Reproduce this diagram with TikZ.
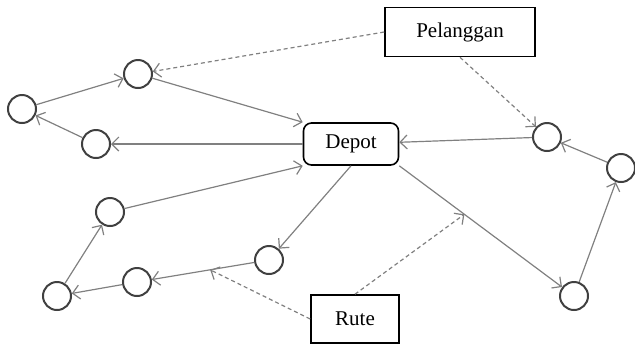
\documentclass[tikz,border=0pt]{standalone}
\usepackage{fontspec}
\setmainfont{Liberation Serif}
\usetikzlibrary{arrows.meta}
\usetikzlibrary{shapes,positioning}
\tikzset{>={Straight Barb[length=3.5pt,width=7pt]}}
\colorlet{background}{white}
\colorlet{penColor}{black!75}
\colorlet{penColor2}{black!50}
\tikzset{
	halte/.style={circle,draw=penColor,line width=1pt,minimum size=14pt,inner sep=0pt},
	kotak/.style={rectangle,draw=black,line width=0.8pt,font=\fontsize{10.5}{12}\selectfont},
	jalur/.style={->,draw=penColor2,line width=0.6pt},
	tunjuk/.style={->,draw=penColor2,line width=0.6pt,dash pattern=on 2pt off 1.5pt}
}

\begin{document}
\begin{tikzpicture}[x=0.5pt,y=-0.5pt]
				\useasboundingbox (0,0) rectangle (635,345);
				\node[kotak,rounded corners=4pt,minimum width=47.5pt,minimum height=21pt] (D) at (351,144) {Depot};
				\node[kotak,minimum width=75pt,minimum height=24.5pt] (P) at (460,32) {Pelanggan};
				\node[kotak,minimum width=44pt,minimum height=24pt] (R) at (355,319) {Rute};
				\node[halte] (A) at (138,74) {};
				\node[halte] (B) at (22,109) {};
				\node[halte] (C) at (96,144) {};
				\node[halte] (E) at (269,260) {};
				\node[halte] (F) at (137,282) {};
				\node[halte] (G) at (57,296) {};
				\node[halte] (H) at (110,212) {};
				\node[halte] (K) at (547,137) {};
				\node[halte] (L) at (621,168) {};
				\node[halte] (M) at (574,296) {};
				\draw[jalur] (D)--(C);
				\draw[jalur] (C)--(B);
				\draw[jalur] (B)--(A);
				\draw[jalur] (A)--(D.north west);
				\draw[jalur] (D.south)--(E);
				\draw[jalur] (E)-- coordinate[pos=0.43] (e) (F);
				\draw[jalur] (F)--(G);
				\draw[jalur] (G)--(H);
				\draw[jalur] (H)--(D.south west);
				\draw[jalur] (D.south east)-- coordinate[pos=0.4] (m) (M);
				\draw[jalur] (M)--(L);
				\draw[jalur] (L)--(K);
				\draw[jalur] (K)--(D);
				\draw[tunjuk] (P.west)--(A);
				\draw[tunjuk] (P.south)--(K);
				\draw[tunjuk] (R.west)--(e);
				\draw[tunjuk] (R.north)--(m);
				\end{tikzpicture}
\end{document}
